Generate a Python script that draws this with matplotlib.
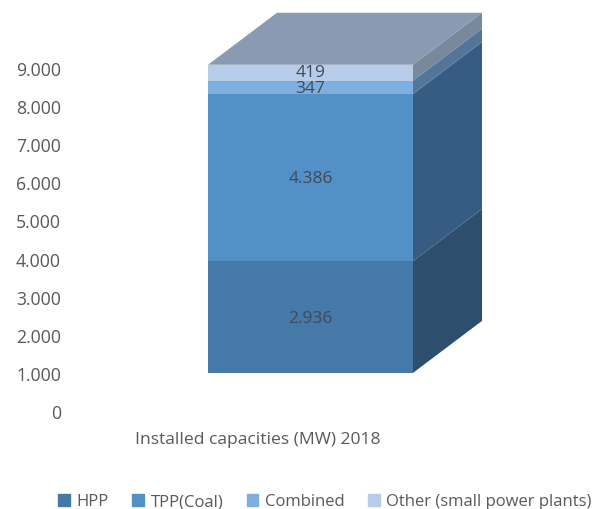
import numpy as np
import matplotlib.pyplot as plt
from matplotlib.patches import Patch

plt.rcParams['font.family'] = ['Open Sans', 'DejaVu Sans']

series = ['HPP', 'TPP(Coal)', 'Combined', 'Other (small power plants)']
values = [2936, 4386, 347, 419]
value_labels = ['2.936', '4.386', '347', '419']
yticks = [0, 1000, 2000, 3000, 4000, 5000, 6000, 7000, 8000, 9000]
ytick_labels = ['0', '1.000', '2.000', '3.000', '4.000', '5.000', '6.000', '7.000', '8.000', '9.000']
category = 'Installed capacities (MW) 2018'

front_colors = ['#4479a8', '#5390c8', '#7fafdf', '#b6cce9']
side_colors = ['#2d4f6d', '#365c84', '#54759a', '#78899c']
top_color = '#8a9ab2'
text_color = '#595959'
label_color = '#404a58'

W, H = 598, 510
fig = plt.figure(figsize=(W / 100, H / 100), dpi=100)
ax = fig.add_axes([0, 0, 1, 1])

# axes cover the whole figure, scales chosen so the ticks land where they do in the picture
px_per_unit = 38.1 / 1000
y0_px = 412
ax.set_ylim(-(H - y0_px) / px_per_unit, y0_px / px_per_unit)
bar_w = 205
bar_c = 310.5
ax.set_xlim(-bar_c / bar_w, (W - bar_c) / bar_w)

# fake 3D: excel floats the bar up by one gridstep and shifts the back face
base = 1000
depth_x = 69 / bar_w
depth_y = 52 / px_per_unit
left, right = -0.5, 0.5
text_dy = -2 / px_per_unit  # open sans sits a bit high

bottoms = base + np.concatenate([[0], np.cumsum(values)[:-1]])
tops = bottoms + np.array(values)

ax.bar([0] * 4, values, width=1, bottom=bottoms, color=front_colors, linewidth=0, zorder=3)
for b, t, c in zip(bottoms, tops, side_colors):
    ax.fill([right, right + depth_x, right + depth_x, right],
            [b, b + depth_y, t + depth_y, t], color=c, linewidth=0, zorder=2)
ax.fill([left, right, right + depth_x, left + depth_x],
        [tops[-1], tops[-1], tops[-1] + depth_y, tops[-1] + depth_y],
        color=top_color, linewidth=0, zorder=2)

# the two thin segments need a little more room between their labels
label_nudge = [0, 0, -0.5 / px_per_unit, 1.5 / px_per_unit]
for b, v, s, n in zip(bottoms, values, value_labels, label_nudge):
    ax.text(0, b + v / 2 + text_dy * 0.3 + n, s, ha='center', va='center', fontsize=12.5,
            color=label_color, zorder=4)

for y, s in zip(yticks, ytick_labels):
    ax.text((61 - bar_c) / bar_w, y + text_dy, s, ha='right', va='center', fontsize=12.7, color=text_color)

ax.text((258 - bar_c) / bar_w, -680 + text_dy, category, ha='center', va='center', fontsize=12.6, color=text_color)

handles = [Patch(color=c) for c in front_colors]
ax.legend(handles, series, loc='center', bbox_to_anchor=(325 / W, 1 - 502.5 / H), ncol=4, frameon=False,
          fontsize=12, labelcolor=text_color, handlelength=0.7, handleheight=0.7,
          handletextpad=0.4, columnspacing=1.4, borderpad=0, borderaxespad=0)

ax.axis('off')
fig.savefig('out.png', dpi=100)
